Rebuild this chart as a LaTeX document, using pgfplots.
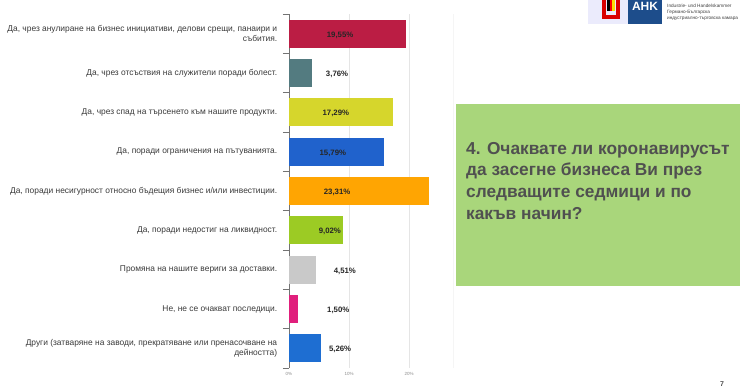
\documentclass[border=0pt]{standalone}
\usepackage{pgfplots}
\pgfplotsset{compat=1.18}
\usepackage{fontspec}
\setmainfont{Liberation Sans}
\definecolor{c1}{HTML}{BB1D44}
\definecolor{c2}{HTML}{537B80}
\definecolor{c3}{HTML}{D6D62C}
\definecolor{c4}{HTML}{2062CC}
\definecolor{c5}{HTML}{FFA502}
\definecolor{c6}{HTML}{9CCB24}
\definecolor{c7}{HTML}{C9C9C9}
\definecolor{c8}{HTML}{E01F7C}
\definecolor{c9}{HTML}{1E6ED2}
\definecolor{boxgreen}{HTML}{A9D67B}
\definecolor{boxtext}{HTML}{505050}
\definecolor{labtext}{HTML}{3A3A3A}
\definecolor{ahkblue}{HTML}{1D4D8B}
\begin{document}
\begin{tikzpicture}[x=1pt,y=1pt]
\path[use as bounding box] (0,0) rectangle (740,387);
\clip (0,0) rectangle (740,387);
\fill[white] (0,0) rectangle (740,387);
\begin{axis}[
  at={(289pt,19pt)}, anchor=south west,
  scale only axis, width=164pt, height=354pt,
  xmin=0, xmax=27.3, ymin=-0.5, ymax=8.5,
  axis y line*=left, axis x line*=bottom,
  x axis line style={draw=none},
  y axis line style={draw=black!55, line width=0.9pt},
  xtick={0,10,20}, xticklabels={0\%,10\%,20\%},
  xtick style={draw=none},
  xmajorgrids, grid style={draw=black!10, line width=0.6pt},
  extra x ticks={27.3}, extra x tick labels={},
  extra x tick style={grid=major, grid style={draw=black!4}},
  x tick label style={font=\fontsize{4.5}{5}\selectfont, text=black!45, yshift=-1pt},
  ytick={0,...,8},
  yticklabels={
    {Други (затваряне на заводи, прекратяване или пренасочване на\\дейността)},
    {Не, не се очакват последици.},
    {Промяна на нашите вериги за доставки.},
    {Да, поради недостиг на ликвидност.},
    {Да, поради несигурност относно бъдещия бизнес и/или инвестиции.},
    {Да, поради ограничения на пътуванията.},
    {Да, чрез спад на търсенето към нашите продукти.},
    {Да, чрез отсъствия на служители поради болест.},
    {Да, чрез анулиране на бизнес инициативи, делови срещи, панаири и\\събития.}},
  ytick style={draw=none},
  y tick label style={font=\fontsize{8.4}{10}\selectfont, text=labtext, align=right, xshift=-4pt},
  extra y ticks={-0.5,0.5,...,8.5}, extra y tick labels={},
  extra y tick style={ytick style={draw=black!55, line width=0.9pt}, major tick length=6pt, tick align=outside},
  xbar, bar width=0.71, bar shift=0pt,
  clip=false,
]
\addplot[fill=c1, draw=none] coordinates {(19.55,8)};
\addplot[fill=c2, draw=none] coordinates {(3.76,7)};
\addplot[fill=c3, draw=none] coordinates {(17.29,6)};
\addplot[fill=c4, draw=none] coordinates {(15.79,5)};
\addplot[fill=c5, draw=none] coordinates {(23.31,4)};
\addplot[fill=c6, draw=none] coordinates {(9.02,3)};
\addplot[fill=c7, draw=none] coordinates {(4.51,2)};
\addplot[fill=c8, draw=none] coordinates {(1.50,1)};
\addplot[fill=c9, draw=none] coordinates {(5.26,0)};
\begin{scope}[every node/.style={font=\fontsize{7.8}{8}\selectfont\bfseries, text=black!85, yshift=-1.5pt}]
\node at (axis cs:8.5,8) {19,55\%};
\node at (axis cs:8.0,7) {3,76\%};
\node at (axis cs:7.8,6) {17,29\%};
\node at (axis cs:7.3,5) {15,79\%};
\node at (axis cs:8.0,4) {23,31\%};
\node at (axis cs:6.8,3) {9,02\%};
\node at (axis cs:9.3,2) {4,51\%};
\node at (axis cs:8.2,1) {1,50\%};
\node at (axis cs:8.5,0) {5,26\%};
\end{scope}
\end{axis}
% question box
\fill[boxgreen] (456,101) rectangle (742,283);
\node[anchor=north west, align=left, inner sep=0pt, text=boxtext,
      font=\fontsize{17.3}{21.7}\selectfont\bfseries] at (466,245)
  {4. Очаквате ли коронавирусът\\да засегне бизнеса Ви през\\следващите седмици и по\\какъв начин?};
% logo
\fill[black!12!blue!8!white] (588,363) rectangle (628,387);
\fill[ahkblue] (628,363) rectangle (662,387);
\node[text=white, font=\fontsize{12}{12}\selectfont\bfseries, anchor=center] at (645,381) {AHK};
\fill[red!85!black] (602,368) rectangle (620,372);
\fill[red!85!black] (602,368) rectangle (606,387);
\fill[red!85!black] (616,368) rectangle (620,387);
\fill[black] (607,376) rectangle (609.5,387);
\fill[red] (609.5,376) rectangle (612,387);
\fill[yellow!80!orange] (612,376) rectangle (614.5,387);
\node[anchor=west, inner sep=0pt, align=left, text=black!75, font=\fontsize{4.7}{6}\selectfont] at (667,375)
  {Industrie- und Handelskammer\\Германо-Българска\\индустриално-търговска камара};
% page number
\node[text=black!70, font=\fontsize{7}{7}\selectfont\bfseries] at (722,3) {7};
\end{tikzpicture}
\end{document}
